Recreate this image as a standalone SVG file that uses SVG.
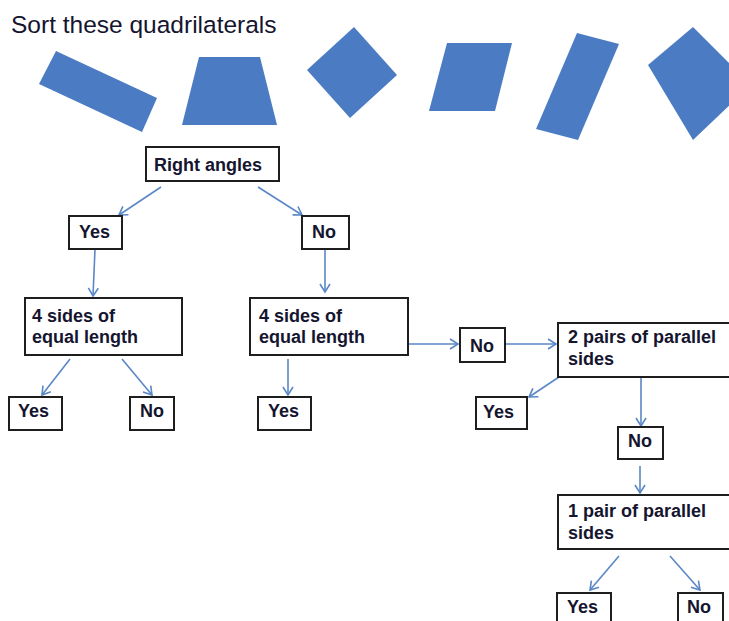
<svg xmlns="http://www.w3.org/2000/svg" width="729" height="621" viewBox="0 0 729 621">
  <style>
    .shape { fill: #4b7cc3; }
    .box { fill: #ffffff; stroke: #1e1e1e; stroke-width: 2; }
    .lbl { font-family: "Liberation Sans", Arial, sans-serif; font-weight: bold; font-size: 18px; fill: #151530; }
    .title { font-family: "Liberation Sans", Arial, sans-serif; font-size: 24.5px; fill: #151530; }
    .conn { stroke: #5a87c6; stroke-width: 1.6; fill: none; marker-end: url(#arr); }
  </style>
  <defs>
    <marker id="arr" markerUnits="userSpaceOnUse" viewBox="-10 -7 12 14" refX="0" refY="0" markerWidth="12" markerHeight="14" orient="auto">
      <path d="M-8,-5 L0,0 L-8,5" fill="none" stroke="#5a87c6" stroke-width="1.6"/>
    </marker>
  </defs>
  <rect width="729" height="621" fill="#ffffff"/>

  <text class="title" x="11" y="33">Sort these quadrilaterals</text>

  <g id="shapes">
    <polygon class="shape" points="56,51 157,98 142,132 39,84"/>
    <polygon class="shape" points="199,57 260,57 277,125 182,125"/>
    <polygon class="shape" points="354,27 397,75 350,118 307,70"/>
    <polygon class="shape" points="447,43 512,43 495,111 429,111"/>
    <polygon class="shape" points="577,33 619,44 578,140 536,129"/>
    <polygon class="shape" points="693,27 751,85 693,140 648,65"/>
  </g>

  <g id="connectors">
    <line class="conn" x1="161" y1="187" x2="119" y2="215"/>
    <line class="conn" x1="258" y1="187" x2="302" y2="215"/>
    <line class="conn" x1="95" y1="249" x2="93" y2="296"/>
    <line class="conn" x1="325" y1="249" x2="325" y2="292"/>
    <line class="conn" x1="70" y1="359" x2="42" y2="395"/>
    <line class="conn" x1="122" y1="359" x2="152" y2="395"/>
    <line class="conn" x1="288" y1="359" x2="288" y2="395"/>
    <line class="conn" x1="408" y1="344" x2="458" y2="344"/>
    <line class="conn" x1="506" y1="344" x2="556" y2="344"/>
    <line class="conn" x1="559" y1="377" x2="529" y2="397"/>
    <line class="conn" x1="641" y1="377" x2="641" y2="426"/>
    <line class="conn" x1="640" y1="466" x2="640" y2="493"/>
    <line class="conn" x1="619" y1="556" x2="590" y2="590"/>
    <line class="conn" x1="670" y1="556" x2="700" y2="590"/>
  </g>

  <g id="n-right-angles">
    <rect class="box" x="146" y="147" width="133" height="34"/>
    <text class="lbl" x="154" y="171">Right angles</text>
  </g>
  <g id="n-yes1">
    <rect class="box" x="69" y="216" width="53" height="33"/>
    <text class="lbl" x="79" y="238">Yes</text>
  </g>
  <g id="n-no1">
    <rect class="box" x="302" y="216" width="47" height="33"/>
    <text class="lbl" x="312" y="238">No</text>
  </g>
  <g id="n-equal1">
    <rect class="box" x="25" y="298" width="157" height="57"/>
    <text class="lbl" x="32" y="322">4 sides of</text>
    <text class="lbl" x="32" y="343">equal length</text>
  </g>
  <g id="n-equal2">
    <rect class="box" x="250" y="298" width="158" height="57"/>
    <text class="lbl" x="259" y="322">4 sides of</text>
    <text class="lbl" x="259" y="343">equal length</text>
  </g>
  <g id="n-yes2">
    <rect class="box" x="9" y="397" width="53" height="33"/>
    <text class="lbl" x="18" y="417">Yes</text>
  </g>
  <g id="n-no2">
    <rect class="box" x="130" y="397" width="44" height="33"/>
    <text class="lbl" x="140" y="417">No</text>
  </g>
  <g id="n-yes3">
    <rect class="box" x="258" y="397" width="53" height="33"/>
    <text class="lbl" x="268" y="417">Yes</text>
  </g>
  <g id="n-no3">
    <rect class="box" x="460" y="328" width="45" height="34"/>
    <text class="lbl" x="470" y="352">No</text>
  </g>
  <g id="n-two-pairs">
    <rect class="box" x="558" y="323" width="190" height="54"/>
    <text class="lbl" x="568" y="343">2 pairs of parallel</text>
    <text class="lbl" x="568" y="365">sides</text>
  </g>
  <g id="n-yes4">
    <rect class="box" x="476" y="397" width="51" height="32"/>
    <text class="lbl" x="483" y="418">Yes</text>
  </g>
  <g id="n-no4">
    <rect class="box" x="618" y="427" width="45" height="32"/>
    <text class="lbl" x="628" y="447">No</text>
  </g>
  <g id="n-one-pair">
    <rect class="box" x="558" y="495" width="190" height="54"/>
    <text class="lbl" x="568" y="517">1 pair of parallel</text>
    <text class="lbl" x="568" y="539">sides</text>
  </g>
  <g id="n-yes5">
    <rect class="box" x="557" y="593" width="54" height="40"/>
    <text class="lbl" x="567" y="613">Yes</text>
  </g>
  <g id="n-no5">
    <rect class="box" x="678" y="593" width="45" height="40"/>
    <text class="lbl" x="687" y="613">No</text>
  </g>
</svg>
